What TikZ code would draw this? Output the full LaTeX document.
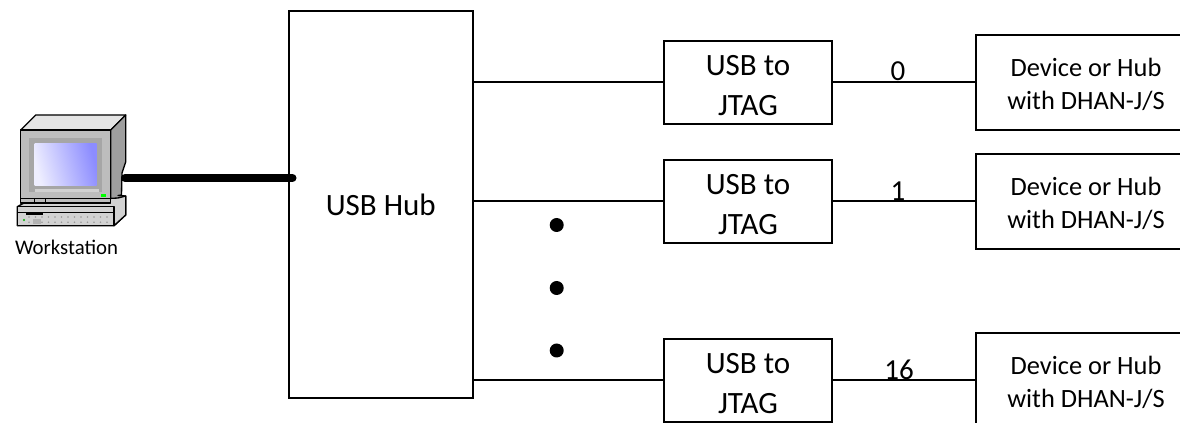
\documentclass[tikz,border=0pt]{standalone}
\usepackage{fontspec}
\setmainfont{Carlito}
\definecolor{pcface}{HTML}{BDBDBD}
\definecolor{pctop}{HTML}{E4E4E4}
\definecolor{pcside}{HTML}{9E9E9E}
\definecolor{pcbezel}{HTML}{A6A6A6}
\definecolor{pcscreen}{HTML}{8C8CFF}
\definecolor{pcbase}{HTML}{D2D2D2}
\newcommand{\jtagtxt}{\rule{0pt}{20pt}USB to\\JTAG}
\newcommand{\devtxt}{\rule{0pt}{16.5pt}Device or Hub\\with DHAN-J/S}
\tikzset{
  box/.style={draw=black,line width=1.5pt,inner sep=0pt,align=center},
  hubbox/.style={box,minimum width=184.5*.75pt,minimum height=387*.75pt,font=\fontsize{23.25pt}{30pt}\selectfont},
  jtagbox/.style={box,minimum width=168*.75pt,minimum height=83.5*.75pt,font=\fontsize{23.25pt}{30pt}\selectfont},
  devbox/.style={box,minimum width=220*.75pt,minimum height=95*.75pt,font=\fontsize{19.8pt}{25pt}\selectfont},
  wire/.style={line width=1.5pt},
  thickwire/.style={line width=6pt,line cap=round},
  num/.style={anchor=base,inner sep=0pt,font=\fontsize{21.75pt}{26pt}\selectfont},
  dotmark/.style={circle,fill=black,inner sep=0pt,minimum size=14*.75pt},
  pcline/.style={draw=black,line width=1pt,line join=round}
}
\begin{document}
\begin{tikzpicture}[x=.75pt,y=-.75pt]
\useasboundingbox (0,0) rectangle (1180,423);
\clip (0,0) rectangle (1180,423);
% computer
\fill[white] (0,0) rectangle (1180,423);
\draw[pcline,fill=pctop] (20.7,130) -- (35.7,115) -- (125.7,115) -- (110.7,130) -- cycle;
\draw[pcline,fill=pcside] (110.7,130) -- (125.7,115) -- (125.7,162) -- (122,173) -- (121.5,195) -- (118,195.5) -- (125.7,196) -- (125.7,215) -- (114,225.7) -- (110.7,203) -- cycle;
\draw[pcline,fill=pcbase] (17.3,206.7) -- (24,203) -- (118,198) -- (125.7,196) -- (125.7,215) -- (114,225.7) -- (17.3,225.7) -- cycle;
\draw[pcline,fill=pcface] (20.7,130) rectangle (110.7,203);
\fill[pcbezel] (29,137.7) rectangle (101.7,191.7);
\fill[pcface!70!white] (35,189) rectangle (99,191.7);
\shade[shading=axis,left color=white!85!pcscreen,right color=pcscreen,shading angle=105] (34.7,143.3) rectangle (96.7,186);
\fill[green] (101,194) rectangle (106,197.3);
\draw[black,line width=.6pt] (20.7,198.3) -- (110.7,198.3) (34.3,198.3) -- (34.3,203) (45.7,198.3) -- (45.7,203);
\draw[pcline,fill=pcbase] (17.3,206.7) rectangle (114,225.7);
\draw[black,line width=.6pt] (17.3,212.5) -- (114,212.5);
\fill[black] (26,211.7) rectangle (43.3,214.7);
\foreach \r in {217,222.3}{\foreach \k in {29,35.5,...,108}{\fill[gray!80] (\k,\r) circle (.9);}}
\fill[gray!60] (33,219.5) rectangle (41,224.5);
\fill[green!70!black] (24,220) circle (1.1);
\node[inner sep=0pt,anchor=base,font=\fontsize{15.6pt}{18pt}\selectfont] (wslabel) at (66.5,255) {Workstation};
\coordinate (pcport) at (125,178);
% hub
\node[hubbox] (hub) at (380.75,204.5) {USB Hub};
\coordinate (hubport) at (292.5,178);
\draw[thickwire] (pcport) -- (hubport);
% converters
\node[jtagbox] (j1) at (748,82.5) {\jtagtxt};
\node[jtagbox] (j2) at (748,201.5) {\jtagtxt};
\node[jtagbox] (j3) at (748,380.5) {\jtagtxt};
\node[devbox] (d1) at (1086,82.5) {\devtxt};
\node[devbox] (d2) at (1086,201.5) {\devtxt};
\node[devbox] (d3) at (1086,380.5) {\devtxt};
\foreach \i in {1,2,3}{
  \draw[wire] (j\i.west -| hub.east) -- (j\i.west);
  \draw[wire] (j\i.east) -- (d\i.west);
}
\node[num] (n0) at (898,81) {0};
\node[num] (n1) at (898,201) {1};
\node[num] (n16) at (899,379) {16};
\node[dotmark] (dota) at (556.7,225) {};
\node[dotmark] (dotb) at (556.7,288) {};
\node[dotmark] (dotc) at (556.7,350.5) {};
\end{tikzpicture}
\end{document}
